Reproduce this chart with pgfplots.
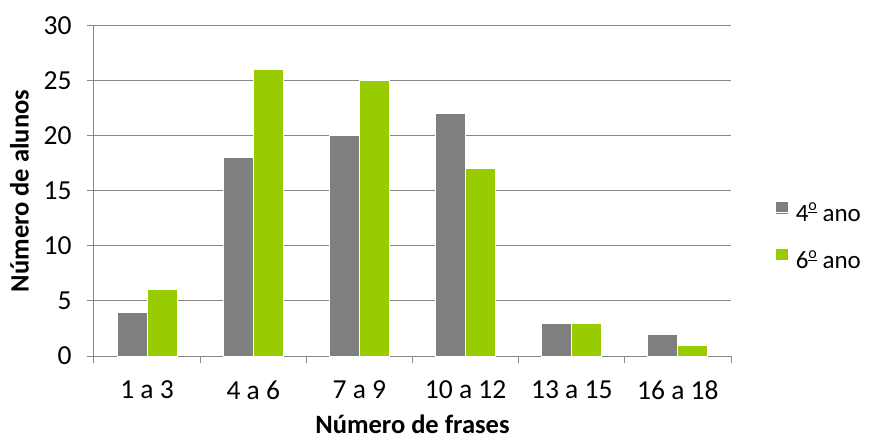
\documentclass[border=0pt]{standalone}
\usepackage{fontspec}
\setmainfont{Carlito}
\usepackage{pgfplots}
\pgfplotsset{compat=1.18}
\definecolor{cgray}{HTML}{7F7F7F}
\definecolor{cgreen}{HTML}{99CC00}
\definecolor{axgray}{HTML}{878787}
\newcommand\ordm{\raisebox{0.85ex}{\fontsize{16}{16}\selectfont\underline{o}}}
\begin{document}
\begin{tikzpicture}[font=\fontsize{25}{29}\selectfont]
\useasboundingbox (-94pt,-85pt) rectangle (775pt,356pt);
\begin{axis}[
  at={(0pt,0pt)}, anchor=south west,
  scale only axis, width=637pt, height=330pt,
  ymin=0, ymax=30, ytick={0,5,...,30},
  xmin=-0.5, xmax=5.5,
  xtick={-0.5,0.5,1.5,2.5,3.5,4.5,5.5},
  x tick label as interval,
  xticklabels={1 a 3, 4 a 6, 7 a 9, 10 a 12, 13 a 15, 16 a 18},
  axis x line*=bottom, axis y line*=left,
  axis line style={draw=axgray, line width=1pt, -},
  tick style={draw=axgray, line width=1pt},
  tick align=outside, major tick length=7pt,
  ymajorgrids, grid style={draw=axgray, line width=1pt},
  /pgf/number format/assume math mode=true,
  tick label style={font=\fontsize{27.5}{31}\selectfont},
  yticklabel style={xshift=-12pt},
  xticklabel style={yshift=-14pt},
  xlabel={\bfseries Número de frases},
  ylabel={\bfseries Número de alunos},
  label style={font=\fontsize{26.5}{30}\selectfont},
  xlabel style={yshift=-12pt, inner sep=0pt},
  ylabel style={yshift=8pt},
  ybar=0pt, bar width=30pt,
  legend style={at={(1.07,0.362)}, anchor=west, draw=none, fill=none,
    inner sep=0pt, row sep=24pt, font=\fontsize{25}{29}\selectfont},
  legend cell align=left,
  legend image code/.code={\fill[#1,draw=none] (0pt,-1pt) rectangle (12pt,11pt); \path (0pt,0pt) -- (17pt,0pt);},
]
\addplot[fill=cgray, draw=white, line width=1pt] coordinates {(0,4) (1,18) (2,20) (3,22) (4,3) (5,2)};
\addplot[fill=cgreen, draw=white, line width=1pt] coordinates {(0,6) (1,26) (2,25) (3,17) (4,3) (5,1)};
\legend{4\ordm{} ano, 6\ordm{} ano}
\end{axis}
\end{tikzpicture}
\end{document}
